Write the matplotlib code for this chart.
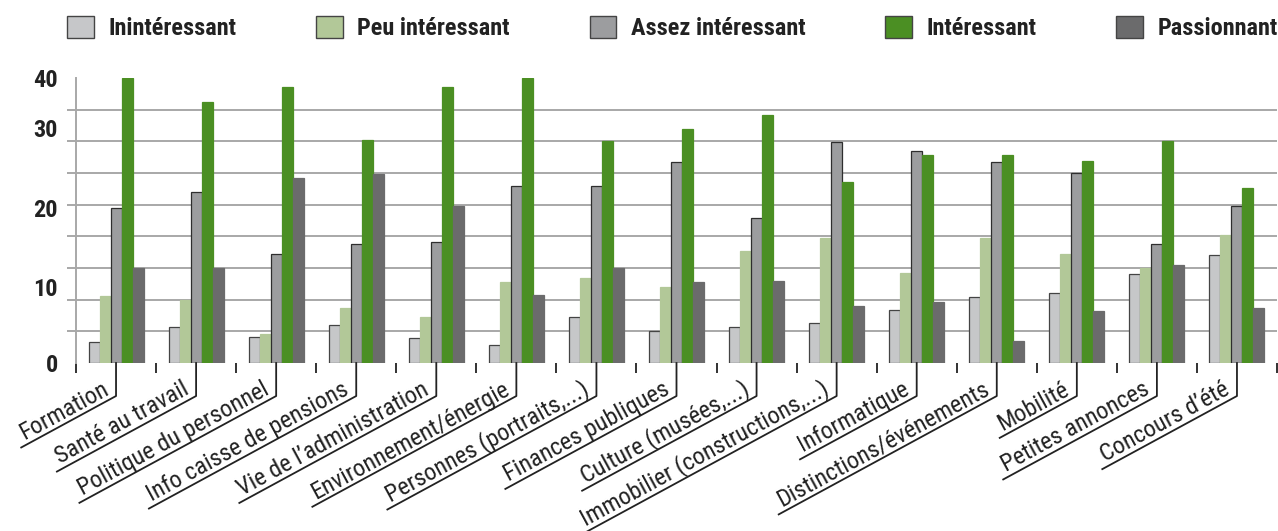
import numpy as np
import matplotlib
matplotlib.use("Agg")
from matplotlib import pyplot as plt
from matplotlib import font_manager as fm
from matplotlib.patches import Patch
from matplotlib.lines import Line2D

categories = ["Formation", "Santé au travail", "Politique du personnel",
              "Info caisse de pensions", "Vie de l’administration",
              "Environnement/énergie", "Personnes (portraits,...)",
              "Finances publiques", "Culture (musées,...)",
              "Immobilier (constructions,...)", "Informatique",
              "Distinctions/événements", "Mobilité", "Petites annonces",
              "Concours d’été"]
series = ["Inintéressant", "Peu intéressant", "Assez intéressant",
          "Intéressant", "Passionnant"]

ininteressant = [3.0, 5.0, 3.6, 5.3, 3.5, 2.5, 6.4, 4.5, 5.1, 5.6, 7.5, 9.3, 9.8, 12.5, 15.2]
peu_interessant = [9.4, 8.8, 4.1, 7.7, 6.4, 11.4, 11.9, 10.6, 15.7, 17.5, 12.6, 17.5, 15.3, 13.4, 18.0]
assez_interessant = [21.7, 24.0, 15.3, 16.7, 17.0, 24.9, 24.9, 28.2, 20.3, 31.0, 29.8, 28.2, 26.7, 16.7, 22.0]
interessant = [40.0, 36.6, 38.7, 31.3, 38.7, 40.0, 31.1, 32.9, 34.8, 25.4, 29.2, 29.2, 28.4, 31.2, 24.5]
passionnant = [13.4, 13.3, 26.0, 26.5, 22.1, 9.6, 13.4, 11.3, 11.5, 8.0, 8.6, 3.1, 7.3, 13.8, 7.7]

ytick_labels = ["0", "10", "20", "30", "40"]

colors = ["#c6c7c9", "#b2c898", "#9c9d9f", "#4b8f23", "#6b6b6c"]
edges = ["#444444", "#b2c898", "#2e2e2e", "#4b8f23", "#6b6b6c"]


def pick_font():
    # the original uses a condensed face; take one if the system has it
    fonts = fm.fontManager.ttflist
    names = {f.name for f in fonts}
    for cand in ["Liberation Sans Narrow", "Roboto Condensed", "Open Sans Condensed",
                 "Noto Sans Condensed", "DejaVu Sans Condensed",
                 "Noto Sans SemiCondensed", "Open Sans SemiCondensed"]:
        if cand in names:
            return cand, "normal"
    for f in fonts:
        if "Condensed" in f.name or "Narrow" in f.name:
            return f.name, "normal"
    for f in fonts:
        if f.stretch in ("condensed", "semi-condensed", "extra-condensed"):
            return f.name, "condensed"
    return "Roboto", "normal"


font_name, stretch = pick_font()
plt.rcParams["font.family"] = [font_name, "DejaVu Sans"]
plt.rcParams["font.stretch"] = stretch
TXT = "#222222"

fig = plt.figure(figsize=(12.78, 5.31), dpi=100)
ax = fig.add_axes([76 / 1278, 168 / 531, 1201 / 1278, 285 / 531])

x = np.arange(len(categories))
w = 0.1375
values = [ininteressant, peu_interessant, assez_interessant, interessant, passionnant]
for k, vals in enumerate(values):
    ax.bar(x + (k - 2) * w, vals, w, color=colors[k], edgecolor=edges[k],
           linewidth=0.9, label=series[k], zorder=3)

ax.set_xlim(-0.5, len(categories) - 0.5)
ax.set_ylim(0, 40)

# gridlines: 9 equal steps between 0 and 40
ax.set_yticks(np.linspace(0, 40, 10), minor=True)
ax.yaxis.grid(True, which="minor", color="#a8a8a8", linewidth=1.4, zorder=0)
ax.tick_params(axis="y", which="minor", length=6.5, width=1.4, color="#a8a8a8")
# value labels sit where the original printed them
ax.set_yticks([0, 10.7, 21.75, 33.0, 40.0], labels=ytick_labels)
ax.tick_params(axis="y", which="major", length=0, pad=13, labelsize=17.5,
               labelcolor=TXT)
for lab in ax.get_yticklabels():
    lab.set_fontweight("bold")

ax.set_xticks([])
ax.set_xticks(np.arange(-0.5, len(categories)), minor=True)
ax.tick_params(axis="x", which="minor", length=7, width=1.3, color="#222222")

for s in ["top", "right", "bottom"]:
    ax.spines[s].set_visible(False)
ax.spines["left"].set_color("#a8a8a8")
ax.spines["left"].set_linewidth(1.4)

# category labels with leader lines
fig.canvas.draw()
renderer = fig.canvas.get_renderer()
inv = fig.transFigure.inverted()
ang = np.deg2rad(28.5)
d = np.array([np.cos(ang), np.sin(ang)])
n = np.array([-np.sin(ang), np.cos(ang)])
label_size = 17.5
for i, name in enumerate(categories):
    x0, y0 = ax.transData.transform((i, 0))
    corner = np.array([x0, y0 - 33])
    t = fig.text(0, 0, name, fontsize=label_size, color=TXT)
    tw = t.get_window_extent(renderer).width
    t.remove()
    end = corner - d * (tw + 10)
    pts = inv.transform([[x0, y0], corner, end])
    fig.add_artist(Line2D(pts[:, 0], pts[:, 1], color="#222222", linewidth=1.3))
    anchor = inv.transform([corner - d * 4 + n * 5])[0]
    fig.text(anchor[0], anchor[1], name, fontsize=label_size, color=TXT,
             rotation=28.5, rotation_mode="anchor", ha="right", va="baseline")

handles = [Patch(facecolor=colors[k], edgecolor="#444444", linewidth=1.0)
           for k in range(5)]
fig.legend(handles, series, loc="center", ncol=5, mode="expand",
           bbox_to_anchor=(67 / 1278, 1 - 41 / 531, 1211 / 1278, 26 / 531),
           frameon=False, prop={"weight": "bold", "size": 17.5},
           handlelength=1.1, handleheight=1.0, handletextpad=0.6,
           borderpad=0, borderaxespad=0, labelcolor=TXT)

fig.savefig("out.png", dpi=100)
